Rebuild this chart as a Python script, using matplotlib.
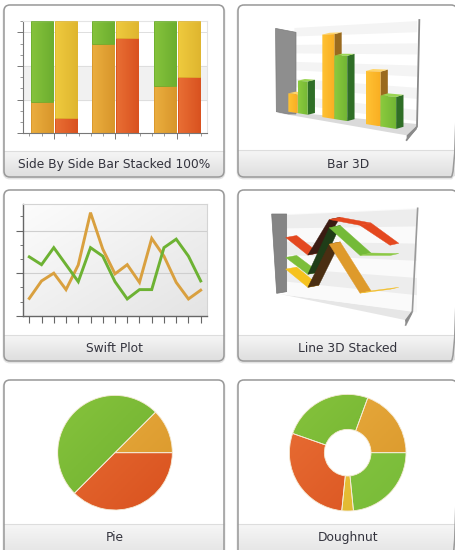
import numpy as np
import matplotlib
matplotlib.use('Agg')
import matplotlib.pyplot as plt
from matplotlib.colors import LinearSegmentedColormap
from matplotlib.patches import FancyBboxPatch, Polygon

W, H = 455, 550

# stacked 100% chart
stack_orange = [28, 80, 42]
stack_green = [72, 20, 58]
stack_red = [14, 85, 50]
stack_yellow = [86, 15, 50]

# bar 3d
bar3d_orange = [1.1, 4.55, 2.65]
bar3d_green = [1.9, 3.4, 1.5]

# swift plot
swift_orange = [1.22, 2.45, 3.0, 1.84, 3.58, 7.27, 4.7, 2.95, 3.6, 2.35, 5.45, 4.2, 2.35, 1.18, 1.8]
swift_green = [4.15, 3.6, 4.8, 3.6, 2.4, 4.8, 4.2, 2.4, 1.18, 1.84, 1.84, 4.8, 5.4, 4.2, 2.45]

# line 3d stacked
line3d_x = [0, 0.85, 1.67, 2.85, 4]
line3d_orange = [1.55, 0.6, 3.1, 0.6, 0.95]
line3d_green = [0.7, 0.75, 0.9, 1.95, 1.65]
line3d_red = [1.2, 1.1, 0.45, 1.55, 0.5]

# pies
pie_values = [12.5, 50, 37.5]
donut_values = [19.4, 25.2, 28.7, 3.2, 23.4]

captions = ['Side By Side Bar Stacked 100%', 'Bar 3D', 'Swift Plot', 'Line 3D Stacked', 'Pie', 'Doughnut']

ORANGE = ('#EBAE40', '#D8962A')
GREEN = ('#86C33C', '#6CAE2F')
LGREEN = ('#8CC945', '#78BB38')
YELLOW = ('#EFCB3E', '#DFB52F')
RED = ('#E96F35', '#D9521F')

fig = plt.figure(figsize=(W / 100, H / 100), dpi=100, facecolor='white')


def px_axes(x0, y0, x1, y1):
    ax = fig.add_axes([x0 / W, 1 - y1 / H, (x1 - x0) / W, (y1 - y0) / H])
    ax.patch.set_visible(False)
    return ax


def grad_fill(ax, patch, colors, extent, mode='h', zorder=2):
    ax.set_autoscale_on(False)
    t = np.linspace(0, 1, 64)
    if mode == 'h':
        arr = t[None, :]
    elif mode == 'v':
        arr = t[:, None]
    else:
        arr = (t[None, :] + t[:, None]) / 2
    cmap = LinearSegmentedColormap.from_list('g', colors)
    im = ax.imshow(arr, cmap=cmap, extent=extent, origin='upper', aspect='auto',
                   zorder=zorder, vmin=0, vmax=1)
    im.set_clip_path(patch)


# cards
bg = px_axes(0, 0, W, H)
bg.set_xlim(0, W)
bg.set_ylim(H, 0)
bg.set_axis_off()
cards = [(4, 5, 224, 177, 151), (238, 5, 457, 177, 150), (4, 190, 224, 361, 335),
         (238, 190, 457, 361, 335), (4, 380, 224, 565, 524), (238, 380, 457, 565, 524)]
centers = [114.5, 348, 114.5, 348, 114.5, 348]
for (x0, y0, x1, y1, yd), name, cx in zip(cards, captions, centers):
    shadow = FancyBboxPatch((x0, y0 + 1), x1 - x0, y1 - y0, boxstyle='round,pad=0,rounding_size=6',
                            fc='none', ec='#E2E2E2', lw=2, zorder=0)
    bg.add_patch(shadow)
    card = FancyBboxPatch((x0, y0), x1 - x0, y1 - y0, boxstyle='round,pad=0,rounding_size=6',
                          fc='white', ec='none', zorder=1)
    bg.add_patch(card)
    grad_fill(bg, card, ('#F6F6F6', '#DEDEDE'), (x0, x1, y1, yd), mode='v', zorder=1.5)
    bg.plot([x0, x1], [yd, yd], color='#DDDDDD', lw=0.8, zorder=2)
    border = FancyBboxPatch((x0, y0), x1 - x0, y1 - y0, boxstyle='round,pad=0,rounding_size=6',
                            fc='none', ec='#999999', lw=1.1, zorder=3)
    bg.add_patch(border)
    bg.text(cx, yd + (y1 - yd if y1 < H else 26) / 2 + 0.5, name, ha='center', va='center',
            fontsize=8.85, color='#33333D', zorder=4)
bg.set_xlim(0, W)
bg.set_ylim(H, 0)

# side by side stacked 100%
ax = px_axes(23.3, 21.3, 207.3, 133.3)
ax.set_xlim(-0.5, 2.5)
ax.set_ylim(0, 100)
ax.axhspan(30, 60, color='#F1F1F1', zorder=0)
for v in (30, 60, 90):
    ax.axhline(v, color='#DEDEDE', lw=0.7, zorder=1)
groups = np.arange(3)
bw, off = 0.36, 0.195
series = [(groups - off, [0, 0, 0], stack_orange, ORANGE), (groups - off, stack_orange, stack_green, GREEN),
          (groups + off, [0, 0, 0], stack_red, RED), (groups + off, stack_red, stack_yellow, YELLOW)]
for xs, bottom, vals, cols in series:
    bars = ax.bar(xs, vals, bw, bottom=bottom, fill=False, edgecolor=cols[1], lw=0.6, zorder=3)
    for r in bars:
        ext = (r.get_x(), r.get_x() + r.get_width(), r.get_y(), r.get_y() + r.get_height())
        grad_fill(ax, r, cols, ext)
for s in ('top', 'right'):
    ax.spines[s].set_color('#E4E4E4')
for s in ('left', 'bottom'):
    ax.spines[s].set_color('#777777')
    ax.spines[s].set_linewidth(0.8)
ax.set_xticks(groups)
ax.set_xticks([g + d for g in groups for d in (-0.4, -0.2, 0.2, 0.4)], minor=True)
ax.set_yticks([0, 30, 60, 90])
ax.set_yticks([10, 20, 40, 50, 70, 80, 100], minor=True)
ax.tick_params(which='major', length=4, width=0.7, color='#777777', labelleft=False, labelbottom=False)
ax.tick_params(which='minor', length=2, width=0.6, color='#888888')

# swift plot
ax = px_axes(23.3, 203.7, 207.3, 315.7)
xs = np.arange(len(swift_orange))
ax.set_xlim(-0.49, 14.54)
ax.set_ylim(0, 7.9)
bgp = ax.axhspan(0, 7.9, fc='none', ec='none')
grad_fill(ax, bgp, ('#FCFCFC', '#E4E4E4'), (-0.49, 14.54, 0, 7.9), mode='d', zorder=0)
for v in (3, 6):
    ax.axhline(v, color='#CFCFCF', lw=0.8, zorder=1)
ax.plot(xs, swift_orange, color='#D9A03F', lw=2.1, zorder=3, solid_joinstyle='miter')
ax.plot(xs, swift_green, color='#6DB233', lw=2.1, zorder=4, solid_joinstyle='miter')
for s in ('top', 'right'):
    ax.spines[s].set_color('#D4D4D4')
for s in ('left', 'bottom'):
    ax.spines[s].set_color('#666666')
    ax.spines[s].set_linewidth(1)
ax.set_xticks(xs)
ax.set_yticks([0, 3, 6])
ax.set_yticks([1, 2, 4, 5, 7], minor=True)
ax.tick_params(which='major', length=5, width=0.8, color='#666666', labelleft=False, labelbottom=False)
ax.tick_params(which='minor', length=2.5, width=0.7, color='#777777')

# bar 3d, panel units are 1/3 px
ax = px_axes(235, 0, 455, 185)
ax.set_xlim(0, 660)
ax.set_ylim(555, 0)
ax.set_axis_off()


def bar_sx(x):
    return 160 + 102 * x + 14 * x * (x - 1)


def bar_pt(x, v, d=0):
    sx = bar_sx(x)
    f = (sx + 996) / 1156
    return (sx + 22 * d, 150 + f * (185 - v * 50 - 5 * d))


def band_poly(pt, x0, x1, v0, v1):
    return [pt(x0, v0), pt(x1, v0), pt(x1, v1), pt(x0, v1)]


ax.add_patch(Polygon([(124, 338), (515, 406), (545, 380), (545, 372), (183, 338)], fc='#DADADA', ec='none', zorder=1))
for v0 in np.arange(0.5, 5, 1.0):
    ax.add_patch(Polygon(band_poly(bar_pt, 0.2, 2.98, v0, v0 + 0.5), fc='#F4F4F4', ec='none', zorder=1))
ax.add_patch(Polygon([bar_pt(-0.47, 5.04), (183, 97), (183, 342), (160, 342), (124, 335)], fc='#8E8E8E', ec='#7C7C7C', lw=0.5, zorder=2))
ax.plot([553, 546, 515], [60, 380, 420], color='#8A8A8A', lw=1.3, zorder=2)
ax.add_patch(Polygon([(515, 406), (545, 378), (545, 388), (515, 421)], fc='#8A8A8A', ec='none', zorder=2))

bar_w = 0.3
bar_cols = [(bar3d_orange, ('#FFC234', '#F9AE22'), '#9A6A1E', '#FFD56A', -0.0),
            (bar3d_green, ('#8CCB3E', '#72B634'), '#2F6E26', '#9AD552', 0.3)]
z = 3
for i in range(3):
    for vals, cols, side, top, dx in bar_cols:
        x0, x1, v = i + dx, i + dx + bar_w, vals[i]
        ax.add_patch(Polygon([bar_pt(x1, 0), bar_pt(x1, v), bar_pt(x1, v, 1), bar_pt(x1, 0, 1)], fc=side, ec='none', zorder=z))
        ax.add_patch(Polygon([bar_pt(x0, v), bar_pt(x1, v), bar_pt(x1, v, 1), bar_pt(x0, v, 1)], fc=top, ec='none', zorder=z))
        front = Polygon([bar_pt(x0, 0), bar_pt(x1, 0), bar_pt(x1, v), bar_pt(x0, v)], fc='none', ec='none', zorder=z)
        ax.add_patch(front)
        px = front.get_xy()
        grad_fill(ax, front, cols, (px[:, 0].min(), px[:, 0].max(), px[:, 1].max(), px[:, 1].min()), zorder=z)
        z += 1
ax.set_xlim(0, 660)
ax.set_ylim(555, 0)

# line 3d stacked
ax = px_axes(235, 185, 455, 370)
ax.set_xlim(0, 660)
ax.set_ylim(555, 0)
ax.set_axis_off()


def line_pt(x, v, d=0):
    sx = 152 + 78.25 * x
    f = (sx + 1197) / 1352
    return (sx + 33 * d, 150 + f * (180 - v * 50 - 6 * d))


ax.add_patch(Polygon([(125, 325), (510, 405), (530, 378), (155, 330)], fc='#E6E6E6', ec='none', zorder=1))
ax.add_patch(Polygon([line_pt(0.05, 0), line_pt(5.03, 0), line_pt(5.03, 4.85), line_pt(0.05, 4.85)], fc='#FAFAFA', ec='none', zorder=1))
for v0 in np.arange(0.8, 4.4, 1.6):
    ax.add_patch(Polygon(band_poly(line_pt, 0.05, 5.03, v0, v0 + 0.8), fc='#EDEDED', ec='none', zorder=1))
ax.add_patch(Polygon([(110, 87), (155, 87), (155, 320), (125, 325)], fc='#858585', ec='#777777', lw=0.5, zorder=2))
ax.plot([548, 532, 512], [70, 380, 420], color='#9A9A9A', lw=1.2, zorder=2)
ax.add_patch(Polygon([(510, 405), (530, 378), (530, 388), (512, 420)], fc='#8A8A8A', ec='none', zorder=2))

cum_orange = np.array(line3d_orange)
cum_green = cum_orange + np.array(line3d_green)
cum_red = cum_green + np.array(line3d_red)
ribbons = [(cum_red, ['#E4481F', '#3A1B12', '#E4481F', '#E4481F']),
           (cum_green, ['#7CBE3A', '#1F3D18', '#74BA38', '#8CC945']),
           (cum_orange, ['#F6C21E', '#4A2E12', '#DE9A2B', '#F2BE2A'])]
z = 3
for vals, cols in ribbons:
    for i in range(len(vals) - 1):
        pts = [line_pt(line3d_x[i], vals[i]), line_pt(line3d_x[i + 1], vals[i + 1]),
               line_pt(line3d_x[i + 1], vals[i + 1], 0.8 if i == 3 else 1), line_pt(line3d_x[i], vals[i], 1)]
        ax.add_patch(Polygon(pts, fc=cols[i], ec=cols[i], lw=0.3, zorder=z))
    z += 1

# pie and doughnut
pie_specs = [((115, 452.7), 57.3, pie_values, [ORANGE, GREEN, RED], None),
             ((347.7, 452.7), 58.3, donut_values, [ORANGE, GREEN, RED, YELLOW, LGREEN], 0.6)]
for (cx, cy), r, vals, cols, width in pie_specs:
    e = r * 1.1
    ax = px_axes(cx - e, cy - e, cx + e, cy + e)
    props = {'linewidth': 0.6, 'edgecolor': '#F5EBD5'}
    if width:
        props['width'] = width
    wedges, _ = ax.pie(vals, startangle=0, counterclock=True, radius=1, wedgeprops=props)
    ax.set_xlim(-1.1, 1.1)
    ax.set_ylim(-1.1, 1.1)
    for w, c in zip(wedges, cols):
        w.set_facecolor('none')
        w.set_zorder(3)
        grad_fill(ax, w, c, (-1, 1, -1, 1), mode='d')

fig.savefig('out.png', dpi=100)
